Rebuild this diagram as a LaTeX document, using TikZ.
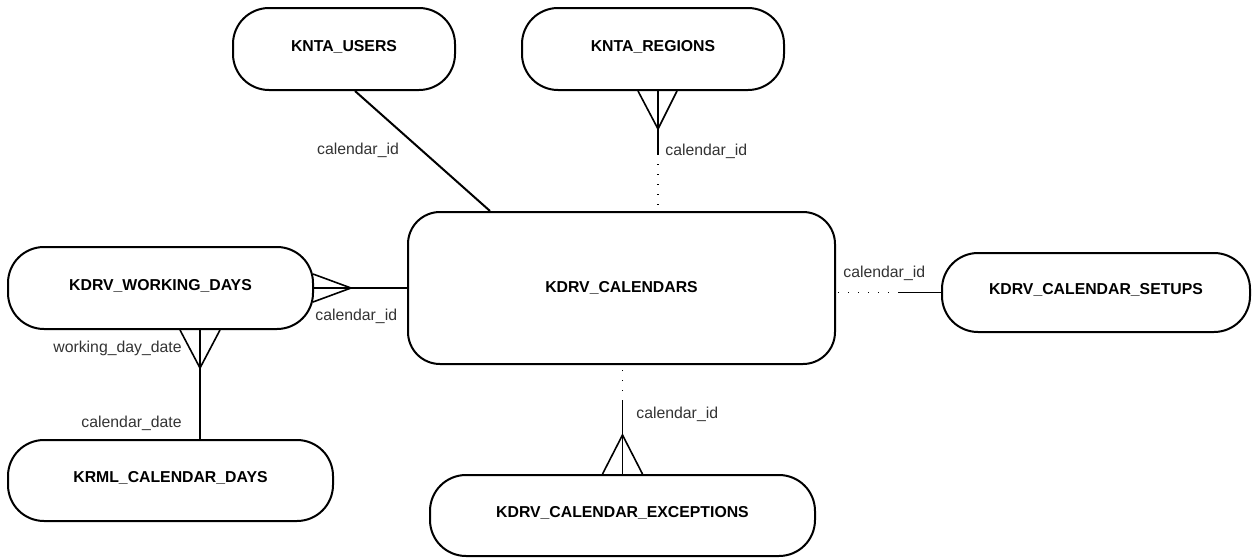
\documentclass[tikz,border=0pt]{standalone}
\usepackage{fontspec}
\setmainfont{Liberation Sans}
\usetikzlibrary{calc}
\tikzset{
  entity/.style={draw, line width=1pt, rounded corners=18pt,
    font=\fontsize{7.9}{9}\selectfont\bfseries, text height=7pt, text depth=5pt},
  rel/.style={line width=0.8pt},
  opt/.style={line width=0.85pt, dash pattern=on 0.7pt off 4.3pt},
  lbl/.style={font=\fontsize{7.9}{9}\selectfont, text=black!80, inner sep=0pt}
}
\begin{document}
\begin{tikzpicture}[x=0.5pt,y=-0.5pt]
  \useasboundingbox (0,0) rectangle (1253,557);
  % entities
  \node[entity, minimum width=111pt, minimum height=41pt] (users) at (344,49) {KNTA\_USERS};
  \node[entity, minimum width=131pt, minimum height=41pt] (regions) at (653,49) {KNTA\_REGIONS};
  \node[entity, minimum width=152.5pt, minimum height=41pt] (wd) at (160.5,288) {KDRV\_WORKING\_DAYS};
  \node[entity, minimum width=162.5pt, minimum height=40.5pt] (krml) at (170.5,480.5) {KRML\_CALENDAR\_DAYS};
  \node[entity, minimum width=213.5pt, minimum height=76pt, rounded corners=16pt, text height=, text depth=] (cal) at (621.5,288) {KDRV\_CALENDARS};
  \node[entity, minimum width=192.5pt, minimum height=40.5pt] (exc) at (622.5,515.5) {KDRV\_CALENDAR\_EXCEPTIONS};
  \node[entity, minimum width=154pt, minimum height=39.5pt] (setups) at (1096,292.5) {KDRV\_CALENDAR\_SETUPS};

  % users -- calendars
  \draw[rel, line width=1pt] ($(users.south)+(11,0)$) -- ($(cal.north)+(-131.5,0)$);
  \node[lbl] (lusers) at (358,150) {calendar\_id};

  % regions -- calendars
  \coordinate (rg) at ($(regions.south)+(5,0)$);
  \draw[rel] (rg) -- ($(rg)+(0,63)$);
  \draw[opt] ($(rg)+(0,63)$) -- (rg |- cal.north);
  \draw[rel] ($(rg)+(-20,0)$) -- ($(rg)+(0,38)$) -- ($(rg)+(19,0)$);
  \node[lbl, anchor=west] (lregions) at (665,151) {calendar\_id};

  % working days -- calendars
  \draw[rel] (wd.east) -- (cal.west);
  \draw[rel] ($(wd.east)+(-1,-14)$) -- ($(wd.east)+(37,0)$) -- ($(wd.east)+(-1,14)$);
  \node[lbl, anchor=west] (lwd) at (315,316) {calendar\_id};

  % working days -- calendar days
  \coordinate (wk) at ($(wd.south)+(39.5,0)$);
  \draw[rel] (wk) -- (wk |- krml.north);
  \draw[rel] ($(wk)+(-20,0)$) -- ($(wk)+(0,38)$) -- ($(wk)+(20,0)$);
  \node[lbl, anchor=east] (lwdd) at (182,348) {working\_day\_date};
  \node[lbl, anchor=east] (lcd) at (182,423) {calendar\_date};

  % calendars -- exceptions
  \draw[rel] (exc.north) -- ($(exc.north)+(0,-73)$);
  \draw[opt] ($(exc.north)+(0,-73)$) -- (exc.north |- cal.south);
  \draw[rel] ($(exc.north)+(-20,0)$) -- ($(exc.north)+(0,-39)$) -- ($(exc.north)+(20,0)$);
  \node[lbl, anchor=west] (lexc) at (636,414) {calendar\_id};

  % calendars -- setups
  \draw[rel] (setups.west) -- ($(setups.west)+(-42,0)$);
  \draw[opt] ($(setups.west)+(-42,0)$) -- (setups.west -| cal.east);
  \node[lbl, anchor=west] (lset) at (843,273) {calendar\_id};
\end{tikzpicture}
\end{document}
